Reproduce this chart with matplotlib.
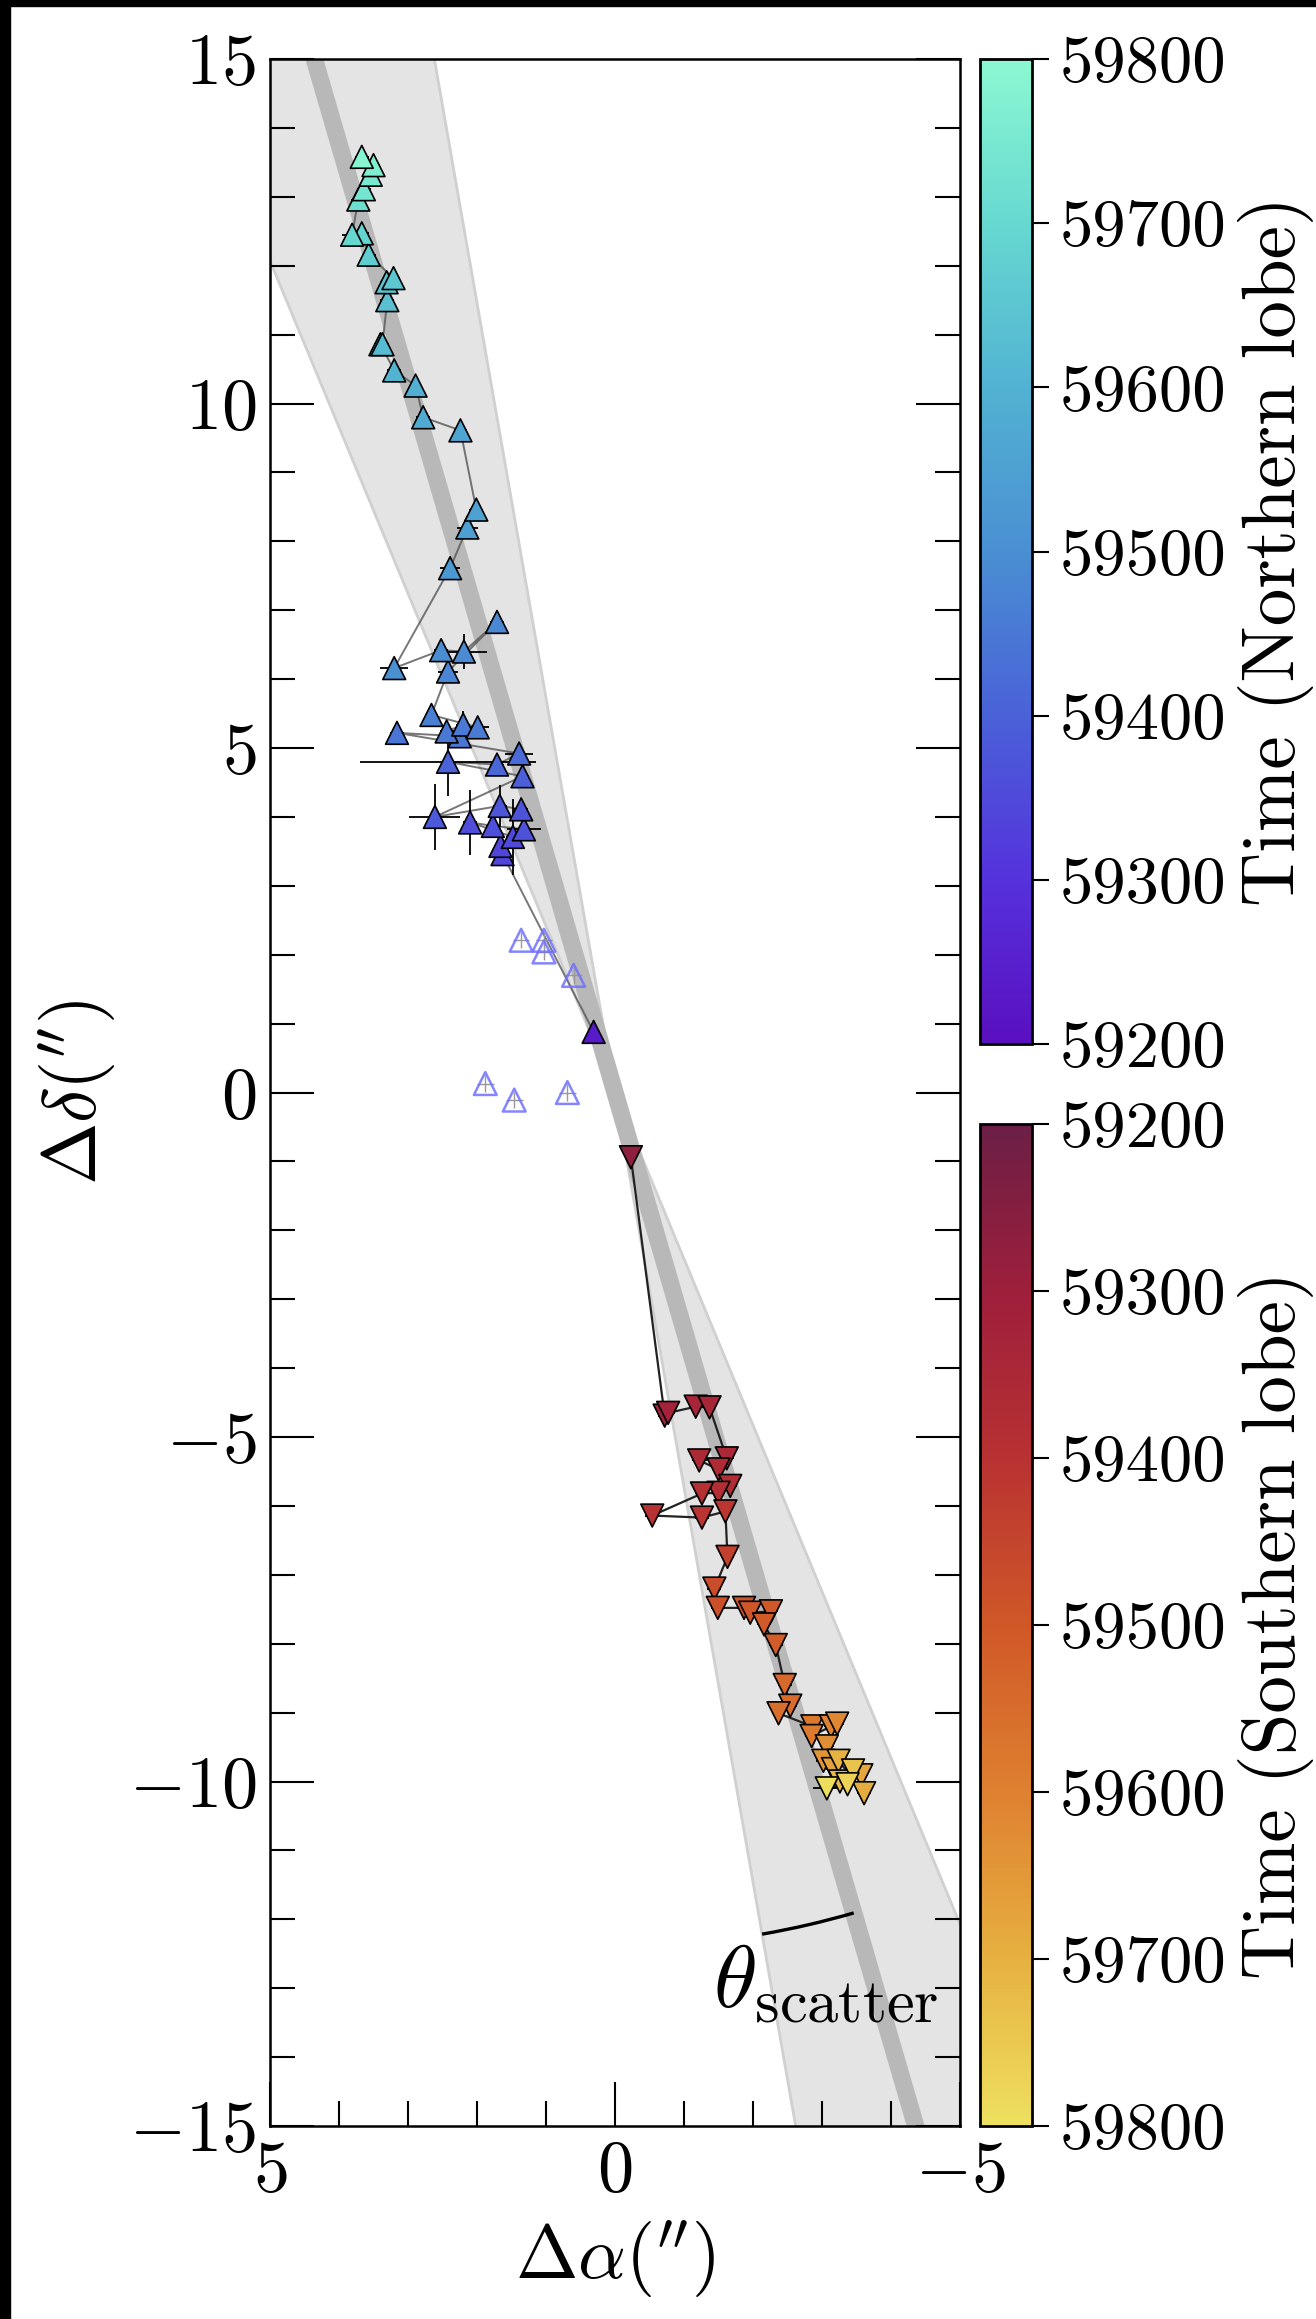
import numpy as np
import matplotlib
matplotlib.use("Agg")
import matplotlib.pyplot as plt
import matplotlib.cm as cm
from matplotlib.colors import LinearSegmentedColormap, Normalize
from matplotlib.patches import Arc, Rectangle
from matplotlib.ticker import MultipleLocator, FormatStrFormatter

plt.rcParams['font.family'] = 'serif'
plt.rcParams['font.serif'] = ['cmr10']
plt.rcParams['mathtext.fontset'] = 'cm'
plt.rcParams['axes.formatter.use_mathtext'] = True

# northern lobe (offsets in arcsec, epochs in MJD)
north_ra = [0.31, 1.63, 1.66, 1.48, 2.10, 1.77, 1.32, 1.36, 1.67, 2.61,
            1.34, 2.42, 1.71, 1.39, 3.16, 2.25, 2.44, 2.20, 1.99, 2.66,
            2.42, 1.71, 2.19, 2.52, 3.20, 2.39, 2.14, 2.01, 2.24, 2.78,
            2.89, 3.20, 3.40, 3.37, 3.30, 3.31, 3.21, 3.57, 3.67, 3.81,
            3.72, 3.64, 3.54, 3.50, 3.67]
north_dec = [0.88, 3.46, 3.58, 3.71, 3.92, 3.87, 3.82, 4.11, 4.16, 4.00,
             4.59, 4.80, 4.76, 4.92, 5.22, 5.17, 5.24, 5.34, 5.30, 5.48,
             6.11, 6.83, 6.40, 6.42, 6.16, 7.61, 8.20, 8.46, 9.61, 9.80,
             10.26, 10.48, 10.86, 10.86, 11.50, 11.76, 11.82, 12.16, 12.47, 12.45,
             12.96, 13.11, 13.32, 13.46, 13.58]
north_mjd = [59235, 59340, 59345, 59350, 59355, 59360, 59365, 59370, 59375, 59385,
             59395, 59405, 59412, 59420, 59440, 59445, 59450, 59455, 59460, 59465,
             59480, 59485, 59492, 59498, 59505, 59530, 59545, 59552, 59560, 59575,
             59590, 59605, 59615, 59622, 59635, 59645, 59652, 59670, 59688, 59698,
             59720, 59738, 59752, 59768, 59790]
north_ra_err = [0.05, 0.10, 0.10, 0.10, 0.10, 0.10, 0.25, 0.10, 0.10, 0.37,
                0.10, 1.27, 0.10, 0.20, 0.10, 0.10, 0.10, 0.10, 0.17, 0.10,
                0.15, 0.10, 0.34, 0.10, 0.20, 0.15, 0.15, 0.10, 0.10, 0.10,
                0.10, 0.10, 0.10, 0.10, 0.10, 0.10, 0.10, 0.10, 0.10, 0.15,
                0.10, 0.10, 0.10, 0.10, 0.10]
north_dec_err = [0.05, 0.10, 0.10, 0.55, 0.47, 0.10, 0.10, 0.10, 0.30, 0.48,
                 0.10, 0.50, 0.10, 0.10, 0.10, 0.10, 0.10, 0.20, 0.10, 0.10,
                 0.10, 0.10, 0.25, 0.10, 0.10, 0.10, 0.10, 0.10, 0.10, 0.10,
                 0.10, 0.10, 0.10, 0.10, 0.10, 0.10, 0.10, 0.10, 0.10, 0.10,
                 0.10, 0.10, 0.10, 0.10, 0.10]

# rejected northern detections
open_ra = [1.36, 1.03, 1.03, 0.60, 1.88, 1.46, 0.69]
open_dec = [2.21, 2.21, 2.04, 1.70, 0.13, -0.11, 0.00]

# southern lobe
south_ra = [-0.23, -0.72, -0.77, -1.17, -1.37, -1.62, -1.22, -1.50, -1.67, -1.50,
            -1.26, -0.54, -1.26, -1.60, -1.63, -1.44, -1.49, -1.87, -1.96, -2.26,
            -2.16, -2.33, -2.46, -2.54, -2.37, -2.86, -2.85, -3.13, -3.22, -3.07,
            -3.02, -3.16, -3.57, -3.61, -3.24, -3.26, -3.45, -3.37, -3.07]
south_dec = [-0.94, -4.69, -4.65, -4.56, -4.57, -5.31, -5.34, -5.47, -5.71, -5.81,
             -5.82, -6.14, -6.17, -6.08, -6.74, -7.20, -7.48, -7.48, -7.55, -7.53,
             -7.72, -8.02, -8.60, -8.90, -9.01, -9.20, -9.34, -9.20, -9.16, -9.49,
             -9.70, -9.82, -9.91, -10.17, -9.70, -10.00, -9.84, -10.04, -10.10]
south_mjd = [59270, 59318, 59322, 59330, 59338, 59350, 59355, 59362, 59372, 59380,
             59388, 59398, 59405, 59412, 59440, 59470, 59480, 59488, 59494, 59500,
             59505, 59512, 59540, 59550, 59556, 59580, 59588, 59605, 59615, 59628,
             59645, 59665, 59680, 59690, 59705, 59720, 59740, 59770, 59795]
south_ra_err = [0.05] + [0.10] * 34 + [0.20, 0.10, 0.20, 0.20]
south_dec_err = [0.05] + [0.10] * 38

# jet axis position angle and opening of the scatter cone (deg)
jet_pa = 16.2
theta_scatter = 6.3
arc_radius = 12.4

tmin, tmax = 59200, 59800
cbar_ticks = [59200, 59300, 59400, 59500, 59600, 59700, 59800]

north_cmap = LinearSegmentedColormap.from_list(
    'north', ['#5a10bf', '#5532dc', '#4a62d8', '#4a8fd2', '#52b2d2', '#66d8d0', '#8cf8d2'])
south_cmap = LinearSegmentedColormap.from_list(
    'south', ['#6c1f45', '#9e1f3c', '#b83232', '#d05828', '#de8030', '#e6b040', '#eee060'])
norm = Normalize(tmin, tmax)

fig = plt.figure(figsize=(13.16, 23.19), dpi=100)
W, H = 1316, 2319
ax = fig.add_axes([270 / W, (H - 2126) / H, 690 / W, 2067 / H])

# scatter cone around the jet axis
R = 40
pa = np.radians(jet_pa)
for sgn in (1, -1):
    a1 = np.radians(jet_pa - theta_scatter)
    a2 = np.radians(jet_pa + theta_scatter)
    ax.fill([0, sgn * R * np.sin(a1), sgn * R * np.sin(a2)],
            [0, sgn * R * np.cos(a1), sgn * R * np.cos(a2)],
            facecolor='#e4e4e4', edgecolor='#d0d0d0', lw=2, zorder=0)
ax.plot([-R * np.sin(pa), R * np.sin(pa)], [-R * np.cos(pa), R * np.cos(pa)],
        color='#b8b8b8', lw=12.5, solid_capstyle='butt', zorder=1)

# northern lobe
ax.plot(north_ra, north_dec, color='#555555', lw=1.4, alpha=0.8, zorder=2)
ax.errorbar(north_ra, north_dec, xerr=north_ra_err, yerr=north_dec_err,
            fmt='none', ecolor='k', elinewidth=1.3, capsize=0, zorder=3)
ax.scatter(north_ra, north_dec, c=north_mjd, cmap=north_cmap, norm=norm,
           marker='^', s=270, edgecolors='k', linewidths=1.2, zorder=4)

ax.errorbar(open_ra, open_dec, xerr=0.12, yerr=0.12, fmt='none',
            ecolor='#999999', elinewidth=1.0, capsize=0, zorder=3)
ax.scatter(open_ra, open_dec, marker='^', s=270, facecolors='none',
           edgecolors='#7070ff', linewidths=1.8, alpha=0.85, zorder=4)

# southern lobe
ax.plot(south_ra, south_dec, color='#222222', lw=1.6, zorder=2)
ax.errorbar(south_ra, south_dec, xerr=south_ra_err, yerr=south_dec_err,
            fmt='none', ecolor='k', elinewidth=1.3, capsize=0, zorder=3)
ax.scatter(south_ra, south_dec, c=south_mjd, cmap=south_cmap, norm=norm,
           marker='v', s=270, edgecolors='k', linewidths=1.2, zorder=4)

# opening angle marker
ax.add_patch(Arc((0, 0), 2 * arc_radius, 2 * arc_radius,
                 theta1=270 - jet_pa, theta2=270 - (jet_pa - theta_scatter),
                 color='k', lw=2.4, zorder=6))
ax.text(-3.05, -12.34, r'$\theta_{\rm scatter}$', fontsize=64,
        ha='center', va='top', zorder=6)

ax.set_xlim(5, -5)
ax.set_ylim(-15, 15)
ax.xaxis.set_major_locator(MultipleLocator(5))
ax.xaxis.set_minor_locator(MultipleLocator(1))
ax.yaxis.set_major_locator(MultipleLocator(5))
ax.yaxis.set_minor_locator(MultipleLocator(1))
ax.tick_params(which='both', direction='in', top=False, right=True,
               labelsize=52, pad=10, width=1.5)
ax.tick_params(which='major', length=32)
ax.tick_params(which='minor', length=18)
for sp in ax.spines.values():
    sp.set_linewidth(1.8)

ax.set_xlabel(r"$\Delta\alpha(^{\prime\prime})$", fontsize=54)
ax.xaxis.set_label_coords(0.5, -0.045)
ax.set_ylabel(r"$\Delta\delta(^{\prime\prime})$", fontsize=54)
ax.yaxis.set_label_coords(-0.22, 0.5)

# colourbars
cax_n = fig.add_axes([980 / W, (H - 1044) / H, 52 / W, 985 / H])
cb_n = fig.colorbar(cm.ScalarMappable(norm=norm, cmap=north_cmap), cax=cax_n, ticks=cbar_ticks)
cb_n.set_label('Time (Northern lobe)', fontsize=54, labelpad=8)

cax_s = fig.add_axes([980 / W, (H - 2126) / H, 52 / W, 1002 / H])
cb_s = fig.colorbar(cm.ScalarMappable(norm=norm, cmap=south_cmap), cax=cax_s, ticks=cbar_ticks)
cb_s.set_label('Time (Southern lobe)', fontsize=54, labelpad=8)
cax_s.invert_yaxis()

for cb in (cb_n, cb_s):
    cb.ax.yaxis.set_major_formatter(FormatStrFormatter('%d'))
    cb.ax.tick_params(labelsize=48, length=12, width=1.5, direction='out', pad=8)
    cb.outline.set_linewidth(2)

# dark frame along the top and left edges
fig.add_artist(Rectangle((0, 0), 10 / W, 1, transform=fig.transFigure, color='k', zorder=10))
fig.add_artist(Rectangle((0, 1 - 6 / H), 1, 6 / H, transform=fig.transFigure, color='k', zorder=10))

fig.savefig('out.png', dpi=100)
